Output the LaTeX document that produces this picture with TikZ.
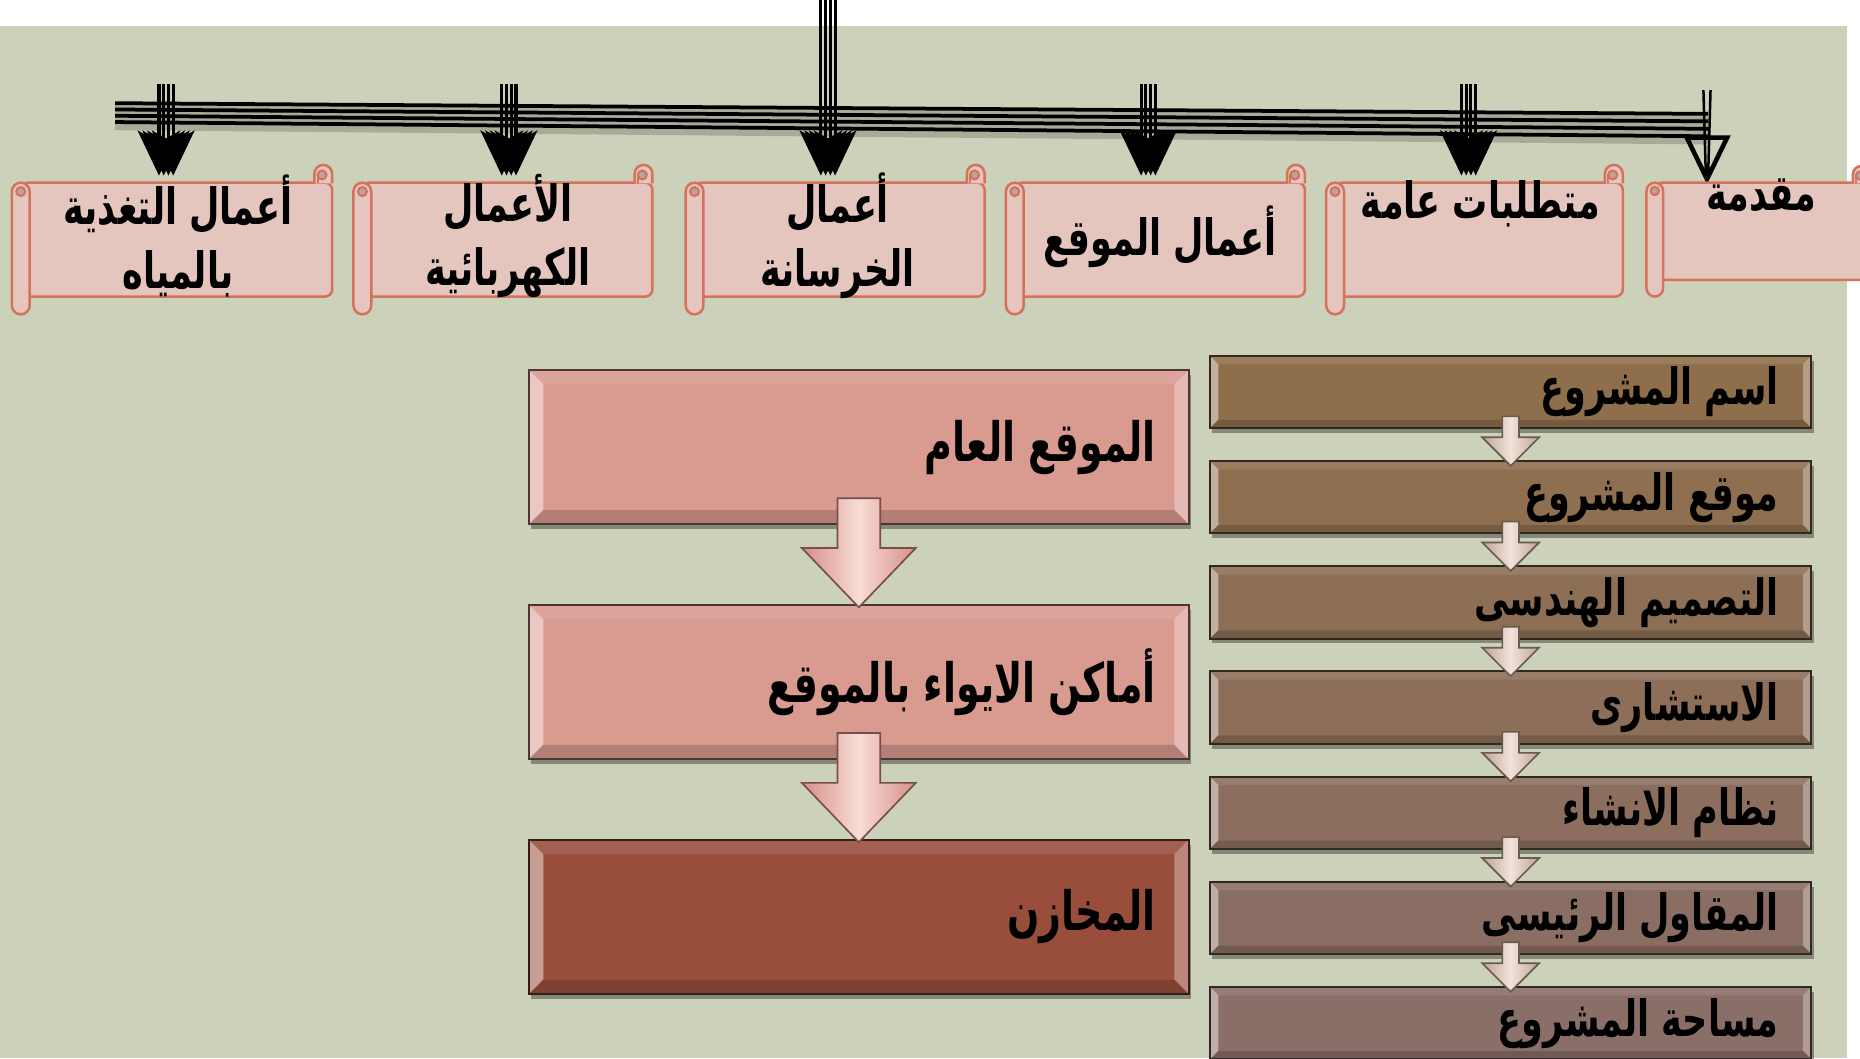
\documentclass[tikz,border=0pt]{standalone}
\usepackage{fontspec}
\newfontfamily\arabicfont[Script=Arabic, FakeStretch=0.7]{DejaVu Sans}
\TeXXeTstate=1
\usetikzlibrary{arrows.meta,calc,fit}
\newcommand\ar[1]{\beginR #1\endR}
\definecolor{bg}{HTML}{CBD2B9}
\definecolor{scrollfill}{HTML}{E4C6BE}
\definecolor{scrollline}{HTML}{D4725C}
\definecolor{curl}{HTML}{BBA3A1}
\definecolor{pinkbox}{HTML}{D99A90}
\definecolor{rustbox}{HTML}{994E3C}
\definecolor{rA}{HTML}{8F6F4B}
\definecolor{rB}{HTML}{8A6E68}
\definecolor{arrpink}{HTML}{D68F86}
\definecolor{arrpinkl}{HTML}{F8DCD6}
\definecolor{arrbr}{HTML}{BFA396}
\definecolor{arrbrl}{HTML}{F2E2DA}

% scroll: name, L, T, R, B, c
\newcommand\scrollshape[6]{%
  \node[fit={(#2+#6*0.5,#3+#6) (#4,#5-#6)}, inner sep=0pt, outer sep=0pt,
        fill=scrollfill, draw=scrollline, line width=0.6pt, rounded corners=0.6mm] (#1) {};
  \filldraw[fill=scrollfill, draw=scrollline, line width=0.6pt]
    (#4-#6,#3+#6+0.5) -- (#4-#6,#3+#6/2) arc[start angle=180, end angle=360, radius=#6/2] -- (#4,#3+#6+0.5);
  \filldraw[fill=curl, draw=scrollline, line width=0.5pt] (#4-#6/2-1,#3+#6/2+1) circle[radius=#6/4];
  \draw[scrollline, line width=0.5pt] (#4-#6*0.75-1,#3+#6/2+1) -- (#4-#6*0.75-1,#3+#6);
  \filldraw[fill=scrollfill, draw=scrollline, line width=0.6pt]
    (#2,#3+1.5*#6) -- (#2,#5-#6/2) arc[start angle=180, end angle=0, radius=#6/2]
    -- (#2+#6,#3+1.5*#6) arc[start angle=0, end angle=-180, radius=#6/2] -- cycle;
  \filldraw[fill=curl, draw=scrollline, line width=0.5pt] (#2+#6/2,#3+1.5*#6) circle[radius=#6/4];
}

% bevel box: name, x1, y1, x2, y2, colour, inset
\newcommand\bevelbox[7]{%
  \fill[black, opacity=.35] (#2+2,#3+4) rectangle (#4+2,#5+4);
  \node[fit={(#2,#3) (#4,#5)}, inner sep=0pt, outer sep=0pt, fill=#6] (#1) {};
  \fill[#6!90!white] (#1.north west) -- (#1.north east) -- ([shift={(-#7,#7)}]#1.north east) -- ([shift={(#7,#7)}]#1.north west) -- cycle;
  \fill[#6!55!white] (#1.north west) -- ([shift={(#7,#7)}]#1.north west) -- ([shift={(#7,-#7)}]#1.south west) -- (#1.south west) -- cycle;
  \fill[#6!68!white] (#1.north east) -- ([shift={(-#7,#7)}]#1.north east) -- ([shift={(-#7,-#7)}]#1.south east) -- (#1.south east) -- cycle;
  \fill[#6!82!black] (#1.south west) -- ([shift={(#7,-#7)}]#1.south west) -- ([shift={(-#7,-#7)}]#1.south east) -- (#1.south east) -- cycle;
  \draw[#6!35!black, line width=.5pt] (#1.north west) rectangle (#1.south east);
}

% block arrow: from, to, shaft half width, head half width, start, head length, tip offset, edge, light
\newcommand\blockarrow[9]{%
  \shadedraw[left color=#8, right color=#8, middle color=#9, draw=#8!55!black, line width=.4pt]
    ($(#1.south)+(-#3,-#5)$) -- ($(#1.south)+(#3,-#5)$) -- ($(#2.north)+(#3,-#6+#7)$)
    -- ($(#2.north)+(#4,-#6+#7)$) -- ($(#2.north)+(0,#7)$) -- ($(#2.north)+(-#4,-#6+#7)$)
    -- ($(#2.north)+(-#3,-#6+#7)$) -- cycle;
}

\begin{document}
\begin{tikzpicture}[x=0.1mm, y=-0.1mm,
  bundle/.style={line width=0.9pt, black},
  varrow/.style={line width=0.75pt, black, -{Stealth[length=3.8mm, width=3.6mm, inset=1mm]}},
  txt/.style={font=\arabicfont\bfseries\fontsize{12}{15.4}\selectfont, text=black, inner sep=0pt, align=center},
  bigtxt/.style={font=\arabicfont\bfseries\fontsize{13}{16}\selectfont, text=black, inner sep=0pt}]
\useasboundingbox (0,0) rectangle (1568,892);
\clip (0,0) rectangle (1568,892);
\fill[white] (0,0) rectangle (1568,892);
\fill[bg] (0,22) rectangle (1557,892);

% horizontal bundle
\coordinate (hl) at (97,95);
\coordinate (hr) at (1440,105);
\foreach \k in {0,1,2,3}{
  \draw[black, opacity=.18, line width=2.2pt] ($(hl)+(0,-5+5.3*\k)$) -- ($(hr)+(0,-6+6.3*\k)$);
}
\foreach \k in {0,1,2,3}{
  \draw[bundle] ($(hl)+(0,-8+5.3*\k)$) -- ($(hr)+(0,-9+6.3*\k)$);
}

% vertical arrows
\foreach \i/\x/\t in {1/140/71, 2/429/71, 3/698/0, 4/968/71, 5/1238/71}{
  \coordinate (v\i s) at (\x,\t);
  \coordinate (v\i e) at (\x,148);
  \foreach \d in {-6,-2,2,6}
    \draw[varrow] ($(v\i s)+(\d,0)$) -- ($(v\i e)+(\d,0)$);
}
\coordinate (v6s) at (1439,76);
\coordinate (v6e) at (1439,151);
\draw[line width=0.6pt] ($(v6s)+(-3,0)$) -- ($(v6e)+(-1,-4)$);
\draw[line width=0.6pt] ($(v6s)+(3,0)$) -- ($(v6e)+(1,-4)$);
\draw[line width=1.1pt, line join=miter] ($(v6e)+(-17,-35)$) -- ($(v6e)+(17,-35)$) -- (v6e) -- cycle;

% scrolls
\scrollshape{s1}{10}{139}{280}{265}{15}
\scrollshape{s2}{298}{139}{550}{265}{15}
\scrollshape{s3}{578}{139}{830}{265}{15}
\scrollshape{s4}{848}{139}{1100}{265}{15}
\scrollshape{s5}{1118}{139}{1368}{265}{15}
\scrollshape{s6}{1388}{140}{1576}{250}{14}

% right column
\foreach \i in {1,...,7}{
  \pgfmathsetmacro\pp{100-(\i-1)*100/6}
  \colorlet{rc}{rA!\pp!rB}
  \pgfmathsetmacro\ta{300+88.67*(\i-1)}
  \pgfmathsetmacro\tb{\ta+61}
  \bevelbox{r\i}{1020}{\ta}{1527}{\tb}{rc}{7}
}

% middle column
\bevelbox{m1}{446}{312}{1002}{442}{pinkbox}{12}
\bevelbox{m2}{446}{510}{1002}{640}{pinkbox}{12}
\bevelbox{m3}{446}{708}{1002}{838}{rustbox}{12}

% block arrows
\blockarrow{m1}{m2}{18}{48}{22}{50}{2}{arrpink}{arrpinkl}
\blockarrow{m2}{m3}{18}{48}{22}{50}{2}{arrpink}{arrpinkl}
\foreach \a/\b in {1/2,2/3,3/4,4/5,5/6,6/7}{
  \blockarrow{r\a}{r\b}{7}{24}{10}{24}{4}{arrbr}{arrbrl}
}

% texts
\node[txt] (t1) at (150,199) {\ar{أعمال التغذية}\\\ar{بالمياه}};
\node[txt] (t2) at (428,199) {\ar{الأعمال}\\\ar{الكهربائية}};
\node[txt] (t3) at (706,199) {\ar{أعمال}\\\ar{الخرسانة}};
\node[txt] (t4) at (978,200) {\ar{أعمال الموقع}};
\node[txt] (t5) at (1248,172) {\ar{متطلبات عامة}};
\node[txt] (t6) at (1485,165) {\ar{مقدمة}};

\node[txt, anchor=east] (tr1) at ($(r1.east)+(-27,0)$) {\ar{اسم المشروع}};
\node[txt, anchor=east] (tr2) at ($(r2.east)+(-27,0)$) {\ar{موقع المشروع}};
\node[txt, anchor=east] (tr3) at ($(r3.east)+(-27,0)$) {\ar{التصميم الهندسى}};
\node[txt, anchor=east] (tr4) at ($(r4.east)+(-27,0)$) {\ar{الاستشارى}};
\node[txt, anchor=east] (tr5) at ($(r5.east)+(-27,0)$) {\ar{نظام الانشاء}};
\node[txt, anchor=east] (tr6) at ($(r6.east)+(-27,0)$) {\ar{المقاول الرئيسى}};
\node[txt, anchor=east] (tr7) at ($(r7.east)+(-27,0)$) {\ar{مساحة المشروع}};

\node[bigtxt, anchor=east] (tm1) at ($(m1.east)+(-27,0)$) {\ar{الموقع العام}};
\node[bigtxt, anchor=east] (tm2) at ($(m2.east)+(-27,0)$) {\ar{أماكن الايواء بالموقع}};
\node[bigtxt, anchor=east] (tm3) at ($(m3.east)+(-27,0)$) {\ar{المخازن}};
\end{tikzpicture}
\end{document}
